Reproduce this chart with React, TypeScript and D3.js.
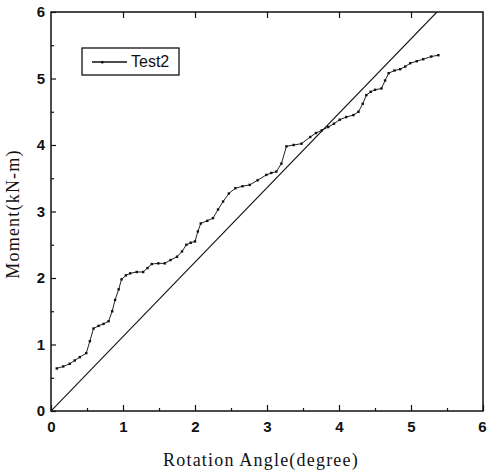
import React, { useEffect, useRef } from 'react';
import * as d3 from 'd3';

// Test2 curve
const angle = [0.08, 0.17, 0.26, 0.33, 0.40, 0.49, 0.54, 0.59, 0.66, 0.73, 0.80, 0.85, 0.89, 0.94, 0.98,
  1.04, 1.10, 1.19, 1.28, 1.34, 1.40, 1.49, 1.58, 1.66, 1.75, 1.82, 1.88, 1.94, 2.00, 2.04, 2.08, 2.17,
  2.25, 2.32, 2.39, 2.47, 2.56, 2.66, 2.76, 2.87, 2.99, 3.06, 3.13, 3.20, 3.27, 3.37, 3.48, 3.60, 3.68,
  3.76, 3.85, 3.93, 4.01, 4.10, 4.20, 4.27, 4.33, 4.38, 4.44, 4.50, 4.59, 4.64, 4.69, 4.77, 4.85, 4.92,
  4.99, 5.08, 5.17, 5.28, 5.38];
const moment = [0.64, 0.67, 0.71, 0.76, 0.81, 0.87, 1.05, 1.24, 1.28, 1.31, 1.35, 1.50, 1.67, 1.83, 1.98,
  2.04, 2.07, 2.09, 2.09, 2.15, 2.21, 2.22, 2.22, 2.27, 2.32, 2.40, 2.50, 2.53, 2.55, 2.70, 2.82, 2.86,
  2.90, 3.03, 3.15, 3.27, 3.35, 3.38, 3.40, 3.47, 3.55, 3.58, 3.60, 3.72, 3.98, 4.00, 4.02, 4.12, 4.18,
  4.22, 4.27, 4.32, 4.38, 4.42, 4.45, 4.50, 4.62, 4.75, 4.80, 4.83, 4.85, 4.97, 5.08, 5.12, 5.14, 5.18,
  5.23, 5.26, 5.29, 5.33, 5.35];

// straight reference line
const refAngle = [0, 5.36];
const refMoment = [0, 6];

const ticks = [0, 1, 2, 3, 4, 5, 6];
const minorTicks = [0.5, 1.5, 2.5, 3.5, 4.5, 5.5];

const W = 487, H = 473;
const left = 51, right = 483, top = 12, bottom = 411;

export default function App() {
  const ref = useRef<SVGSVGElement>(null);

  useEffect(() => {
    const svg = d3.select(ref.current);
    svg.selectAll('*').remove();

    const x = d3.scaleLinear().domain([0, 6]).range([left, right]);
    const y = d3.scaleLinear().domain([0, 6]).range([bottom, top]);
    const fmt = d3.format('d');

    // bottom axis, ticks pointing in
    const xAxis = svg.append('g').attr('transform', `translate(0,${bottom})`)
      .call(d3.axisBottom(x).tickValues(ticks).tickFormat(fmt as any).tickSizeInner(-6).tickSizeOuter(0).tickPadding(10));
    svg.append('g').attr('transform', `translate(0,${bottom})`)
      .call(d3.axisBottom(x).tickValues(minorTicks).tickSizeInner(-3).tickSizeOuter(0).tickFormat(() => ''));
    // top ticks
    svg.append('g').attr('transform', `translate(0,${top})`)
      .call(d3.axisTop(x).tickValues(ticks.slice(1, 6)).tickSizeInner(-6).tickSizeOuter(0).tickFormat(() => ''));

    const yAxis = svg.append('g').attr('transform', `translate(${left},0)`)
      .call(d3.axisLeft(y).tickValues(ticks).tickFormat(fmt as any).tickSizeInner(-5).tickSizeOuter(0).tickPadding(6));
    svg.append('g').attr('transform', `translate(${left},0)`)
      .call(d3.axisLeft(y).tickValues(minorTicks).tickSizeInner(-3).tickSizeOuter(0).tickFormat(() => ''));

    svg.selectAll('.domain').remove();
    svg.selectAll('.tick line').attr('stroke', '#111').attr('stroke-width', 1.2);

    [xAxis, yAxis].forEach(g => g.selectAll('text')
      .attr('font-family', 'Liberation Sans, Arial, sans-serif')
      .attr('font-weight', 'bold')
      .attr('font-size', 15)
      .attr('fill', '#111'));
    // last x label sits against the page edge
    xAxis.selectAll('text').filter(d => d === 6).attr('dx', -1);

    // frame
    svg.append('rect')
      .attr('x', left).attr('y', top)
      .attr('width', right - left).attr('height', bottom - top)
      .attr('fill', 'none').attr('stroke', '#111').attr('stroke-width', 1.5);

    const clip = svg.append('clipPath').attr('id', 'plot');
    clip.append('rect').attr('x', left).attr('y', top).attr('width', right - left).attr('height', bottom - top);

    const line = d3.line<number>().x(d => x(d[0])).y(d => y(d[1]));

    svg.append('path')
      .attr('clip-path', 'url(#plot)')
      .attr('d', line(refAngle.map((a, i) => [a, refMoment[i]]) as any))
      .attr('fill', 'none').attr('stroke', '#111').attr('stroke-width', 1.1);

    const pts = angle.map((a, i) => [a, moment[i]]);
    svg.append('path')
      .attr('d', line(pts as any))
      .attr('fill', 'none').attr('stroke', '#222').attr('stroke-width', 1);
    svg.append('g').selectAll('rect').data(pts).enter().append('rect')
      .attr('x', d => x(d[0]) - 1.2).attr('y', d => y(d[1]) - 1.2)
      .attr('width', 2.4).attr('height', 2.4).attr('fill', '#111');

    // legend
    const lg = svg.append('g');
    lg.append('rect').attr('x', 82).attr('y', 48).attr('width', 97).attr('height', 27)
      .attr('fill', 'white').attr('stroke', '#111').attr('stroke-width', 1.3);
    lg.append('line').attr('x1', 92).attr('x2', 127).attr('y1', 62).attr('y2', 62)
      .attr('stroke', '#111').attr('stroke-width', 1.3);
    lg.append('rect').attr('x', 101).attr('y', 61).attr('width', 2.4).attr('height', 2.4).attr('fill', '#111');
    lg.append('text').attr('x', 131).attr('y', 67)
      .attr('font-family', 'Liberation Sans, Arial, sans-serif').attr('font-size', 16)
      .attr('fill', '#111').text('Test2');

    // axis titles
    svg.append('text').attr('x', 261).attr('y', 466).attr('text-anchor', 'middle')
      .attr('font-family', 'Liberation Serif, Times New Roman, serif').attr('font-size', 18)
      .attr('letter-spacing', 1.2)
      .attr('fill', '#111').text('Rotation Angle(degree)');
    svg.append('text').attr('transform', `translate(19,214) rotate(-90)`)
      .attr('text-anchor', 'middle')
      .attr('font-family', 'Liberation Serif, Times New Roman, serif').attr('font-size', 18)
      .attr('letter-spacing', 1.2)
      .attr('fill', '#111').text('Moment(kN-m)');
  }, []);

  return (
    <svg ref={ref} width={W} height={H}
      style={{ position: 'absolute', left: 0, top: 0, background: 'white' }} />
  );
}
